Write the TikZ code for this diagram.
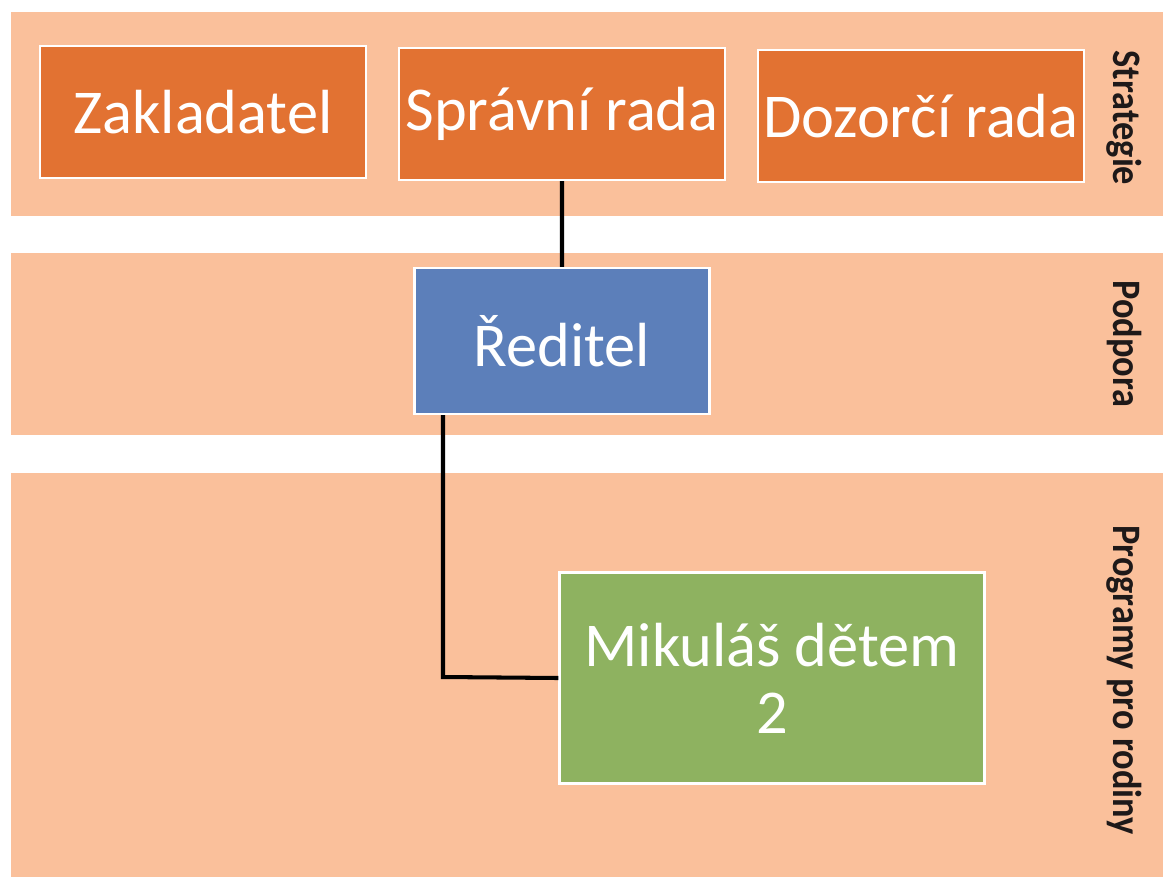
\documentclass[tikz,border=0pt]{standalone}
\usepackage{fontspec}
\setmainfont{Carlito}
\definecolor{bandfill}{RGB}{250,192,155}
\definecolor{boxorange}{RGB}{226,114,50}
\definecolor{boxblue}{RGB}{92,127,186}
\definecolor{boxgreen}{RGB}{142,178,96}
\definecolor{labeltext}{RGB}{30,25,25}
\begin{document}
\begin{tikzpicture}[x=0.02cm, y=-0.02cm, thick,
	band/.style = {fill=bandfill, draw=none},
	main/.style = {rectangle, draw=white, line width=1.2pt, text=white, font=\fontsize{35.5}{38}\selectfont, inner sep=0pt, align=center},
	role/.style = {main, fill=boxorange, minimum width=326*0.02cm, minimum height=132*0.02cm},
	side/.style = {rotate=-90, text=labeltext, font=\bfseries\fontsize{23}{26}\selectfont, xscale=0.9}]
	\useasboundingbox (0,0) rectangle (1163,877);
	% bands
	\fill[band] (11,12) rectangle (1163,216);
	\fill[band] (11,253) rectangle (1163,435);
	\fill[band] (11,473) rectangle (1163,877);
	% boxes
	\node[role] (zakl) at (203,112) {Zakladatel};
	\node[role] (sprava) at (562,114) {Správní rada};
	\node[role] (dozor) at (921,116) {Dozorčí rada};
	\node[main, fill=boxblue, minimum width=295*0.02cm, minimum height=146*0.02cm] (reditel) at (562,341) {Ředitel};
	\node[main, fill=boxgreen, minimum width=425*0.02cm, minimum height=211*0.02cm] (mikulas) at (772,678) {Mikuláš dětem\\2};
	\coordinate (roh) at (443,677);
	% connectors
	\path[draw, line width=2.3pt, black]
		(sprava.south) -- (reditel.north)
		(reditel.south -| roh) -- (roh) -- (mikulas.west);
	% labels
	\node[side] (strat) at (1124,118) {Strategie};
	\node[side] (podp) at (1124,344) {Podpora};
	\node[side] (prog) at (1124,680) {Programy pro rodiny};
\end{tikzpicture}
\end{document}
